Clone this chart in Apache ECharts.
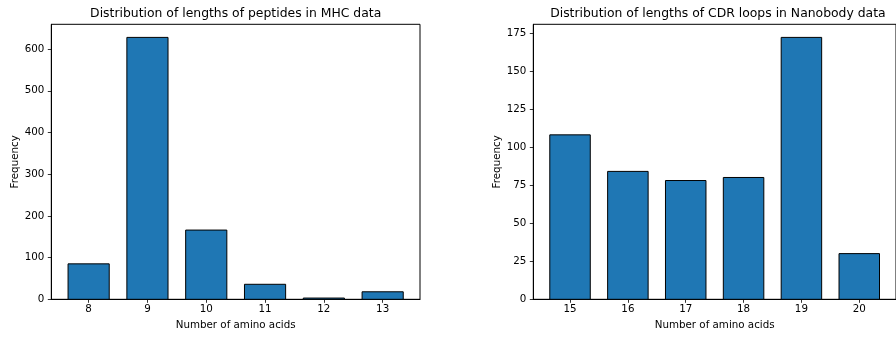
<!DOCTYPE html>
<html>
<head>
<meta charset="utf-8">
<script src="https://cdn.jsdelivr.net/npm/echarts@6/dist/echarts.min.js"></script>
<style>html,body{margin:0;padding:0;background:#fff;}#c{width:896px;height:339px;}</style>
</head>
<body>
<div id="c"></div>
<script>
const mhcLengths = [8, 9, 10, 11, 12, 13];
const mhcCounts = [85, 628, 166, 36, 3, 18];
const nanoLengths = [15, 16, 17, 18, 19, 20];
const nanoCounts = [108, 84, 78, 80, 172, 30];
const mhcYTicks = [0, 100, 200, 300, 400, 500, 600];
const nanoYTicks = [0, 25, 50, 75, 100, 125, 150, 175];

const FONT = 'DejaVu Sans';
const BAR_W = 0.7;

function barRender(params, api) {
  const x = api.value(0), y = api.value(1);
  const p0 = api.coord([x - BAR_W / 2, y]);
  const p1 = api.coord([x + BAR_W / 2, 0]);
  return {
    type: 'rect',
    shape: { x: p0[0], y: p0[1], width: p1[0] - p0[0], height: p1[1] - p0[1] },
    style: { fill: '#1f77b4', stroke: '#000', lineWidth: 1 }
  };
}

function xAxisCfg(gridIndex, min, max, ticks) {
  return {
    type: 'value', gridIndex, min, max,
    name: 'Number of amino acids', nameLocation: 'middle', nameGap: 21,
    nameTextStyle: { fontFamily: FONT, fontSize: 10.3, color: '#000' },
    axisLine: { show: true, onZero: false, lineStyle: { color: '#000', width: 1 } },
    axisTick: { show: true, inside: false, length: 3.5, customValues: ticks, lineStyle: { color: '#000', width: 0.8 } },
    axisLabel: { customValues: ticks, fontFamily: FONT, fontSize: 10.3, color: '#000', margin: 5 },
    splitLine: { show: false }
  };
}
function yAxisCfg(gridIndex, max, ticks) {
  return {
    type: 'value', gridIndex, min: 0, max,
    name: 'Frequency', nameLocation: 'middle', nameGap: 31,
    nameTextStyle: { fontFamily: FONT, fontSize: 10.3, color: '#000' },
    axisLine: { show: true, onZero: false, lineStyle: { color: '#000', width: 1 } },
    axisTick: { show: true, inside: false, length: 3.5, customValues: ticks, lineStyle: { color: '#000', width: 0.8 } },
    axisLabel: { customValues: ticks, fontFamily: FONT, fontSize: 10.3, color: '#000', margin: 7 },
    splitLine: { show: false }
  };
}

const chart = echarts.init(document.getElementById('c'), null, { renderer: 'canvas' });
chart.setOption({
  animation: false,
  backgroundColor: '#fff',
  title: [
    { text: 'Distribution of lengths of peptides in MHC data', left: 235.7, top: 8, textAlign: 'center', padding: 0,
      textStyle: { fontFamily: FONT, fontSize: 12.4, fontWeight: 'normal', color: '#000' } },
    { text: 'Distribution of lengths of CDR loops in Nanobody data', left: 717.9, top: 8, textAlign: 'center', padding: 0,
      textStyle: { fontFamily: FONT, fontSize: 12.4, fontWeight: 'normal', color: '#000' } }
  ],
  grid: [
    { left: 51.3, top: 24.3, width: 368.7, height: 275, show: true, borderColor: '#000', borderWidth: 1, backgroundColor: 'transparent' },
    { left: 533.3, top: 24.3, width: 369.1, height: 275, show: true, borderColor: '#000', borderWidth: 1, backgroundColor: 'transparent' }
  ],
  xAxis: [
    xAxisCfg(0, 7.365, 13.635, mhcLengths),
    xAxisCfg(1, 14.365, 20.635, nanoLengths)
  ],
  yAxis: [
    yAxisCfg(0, 659.4, mhcYTicks),
    yAxisCfg(1, 180.6, nanoYTicks)
  ],
  series: [
    { type: 'custom', xAxisIndex: 0, yAxisIndex: 0, renderItem: barRender,
      data: mhcLengths.map((l, i) => [l, mhcCounts[i]]) },
    { type: 'custom', xAxisIndex: 1, yAxisIndex: 1, renderItem: barRender,
      data: nanoLengths.map((l, i) => [l, nanoCounts[i]]) }
  ]
});
</script>
</body>
</html>
